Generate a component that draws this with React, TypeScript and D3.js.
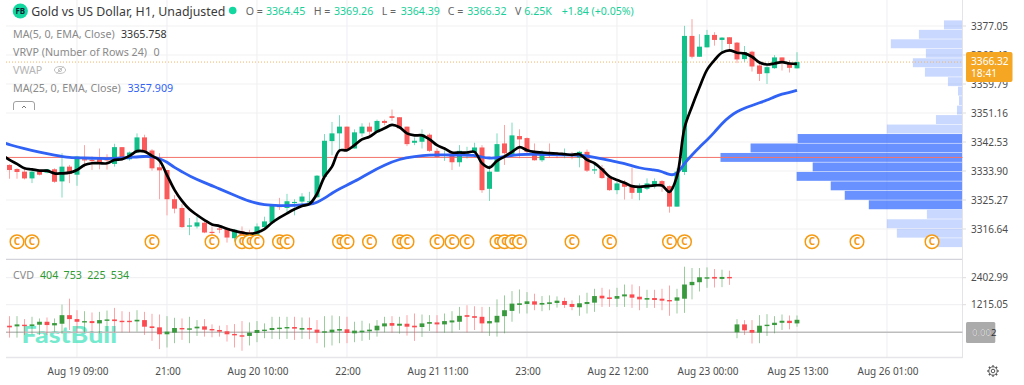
import React from "react";
import * as d3 from "d3";

const FONT = "'Noto Sans', sans-serif";
const FIRST_BAR = -9; // bar number of the first candle; 0 is "Aug 19 09:00"

const opens = [3335.7,3334.5,3333.7,3331.7,3333.8,3333.4,3334.4,3330.8,3335.2,3332.8,
3337.4,3337.2,3338.0,3337.4,3336.0,3341.0,3337.4,3339.4,3343.9,3340.0,
3335.0,3334.2,3325.5,3322.9,3317.5,3317.4,3318.5,3315.8,3316.8,3316.8,
3313.9,3316.0,3315.6,3314.9,3317.2,3318.5,3323.5,3322.9,3324.5,3324.8,
3324.7,3326.1,3332.2,3342.8,3345.1,3347.1,3340.6,3345.1,3347.1,3345.4,
3348.8,3350.2,3349.9,3347.1,3342.3,3342.6,3344.7,3339.9,3338.4,3339.1,
3336.5,3339.4,3339.3,3340.9,3328.6,3333.7,3342.1,3338.6,3344.3,3343.7,
3339.6,3337.1,3339.2,3338.9,3338.8,3338.8,3337.9,3339.6,3334.2,3334.7,
3332.0,3328.2,3330.2,3329.4,3327.4,3328.6,3329.4,3330.9,3329.4,3323.3,
3333.6,3374.1,3367.9,3370.7,3374.4,3372.9,3373.7,3372.1,3367.2,3369.4,
3365.3,3363.0,3364.5,3367.7,3366.0,3364.45];
const closes = [3334.2,3333.6,3331.7,3333.7,3332.8,3334.4,3330.7,3335.2,3333.0,3338.2,
3337.2,3337.0,3336.1,3337.2,3341.0,3337.7,3339.4,3343.9,3339.7,3334.7,
3334.1,3325.5,3322.7,3317.2,3317.7,3318.6,3315.6,3315.7,3316.6,3314.1,
3316.4,3314.2,3315.2,3317.4,3318.9,3323.5,3323.3,3324.9,3324.7,3326.3,
3324.9,3332.5,3342.9,3345.1,3347.1,3340.3,3345.4,3347.1,3345.6,3348.8,
3348.2,3349.7,3346.6,3341.9,3342.9,3344.9,3339.9,3338.1,3338.9,3336.5,
3339.9,3339.6,3340.9,3328.2,3333.7,3341.9,3339.2,3344.5,3343.3,3339.6,
3337.1,3339.4,3338.8,3338.8,3339.0,3338.4,3339.6,3334.0,3334.4,3331.8,
3328.2,3330.2,3329.2,3327.4,3329.0,3330.2,3330.9,3329.4,3323.3,3333.7,
3374.1,3367.9,3370.9,3374.4,3372.9,3373.6,3371.7,3367.1,3369.3,3365.0,
3362.8,3364.8,3367.7,3366.0,3364.6,3366.32];
const highs = [3335.9,3334.7,3334.7,3334.2,3334.2,3334.5,3334.7,3339.2,3335.7,3338.4,
3341.6,3338.2,3340.6,3338.9,3342.0,3341.0,3339.7,3345.1,3344.7,3340.4,
3339.2,3334.2,3326.7,3324.1,3319.9,3320.3,3318.8,3317.4,3317.4,3316.9,
3316.6,3317.4,3316.4,3318.3,3320.3,3323.8,3325.9,3327.1,3325.5,3327.3,
3327.7,3332.7,3344.9,3348.5,3350.5,3347.1,3346.3,3348.1,3348.3,3349.2,
3349.2,3352.2,3349.9,3347.1,3343.9,3346.3,3345.1,3340.6,3340.1,3339.6,
3341.6,3341.1,3342.3,3341.6,3335.7,3345.1,3347.6,3348.3,3346.3,3343.9,
3342.1,3340.1,3342.1,3339.6,3340.6,3339.6,3339.9,3340.3,3336.2,3335.7,
3332.4,3330.7,3331.2,3334.9,3330.2,3331.7,3331.7,3331.2,3329.6,3334.7,
3377.1,3379.1,3374.6,3375.9,3375.2,3373.7,3373.7,3372.3,3371.1,3369.7,
3366.4,3365.5,3368.4,3367.7,3366.9,3369.26];
const lows = [3331.6,3331.6,3331.4,3330.3,3332.6,3333.2,3330.4,3326.0,3330.3,3329.5,
3335.0,3334.2,3334.4,3334.3,3335.2,3337.0,3337.0,3339.2,3339.2,3334.0,
3325.5,3320.7,3321.3,3317.0,3314.8,3316.8,3315.4,3314.9,3315.4,3312.6,
3312.9,3312.9,3314.4,3314.4,3316.9,3318.3,3322.3,3321.7,3320.7,3323.8,
3323.7,3325.9,3332.0,3338.6,3340.1,3340.1,3340.6,3344.1,3344.1,3345.4,
3347.5,3348.8,3346.6,3341.3,3341.6,3340.6,3339.6,3337.9,3336.9,3334.2,
3335.2,3337.6,3339.1,3327.4,3325.0,3333.7,3335.7,3338.1,3337.7,3339.2,
3337.0,3336.6,3337.9,3337.7,3337.7,3337.4,3335.0,3333.6,3333.0,3331.6,
3328.0,3327.0,3325.4,3325.6,3325.2,3328.2,3328.7,3327.7,3321.5,3323.3,
3332.7,3367.4,3367.9,3370.7,3371.2,3369.1,3369.4,3366.0,3366.4,3363.5,
3360.7,3359.8,3364.3,3363.8,3363.2,3364.39];

// EMA 5, one value per bar starting one bar left of the first candle
const ma5 = [3338.7,3337.2,3336.0,3334.7,3334.4,3334.0,3334.0,3333.2,3333.2,3333.4,3334.2,
3335.7,3336.2,3336.2,3336.2,3337.2,3337.4,3338.4,3339.8,3339.7,3338.4,
3337.0,3332.7,3328.3,3325.0,3322.5,3320.8,3319.3,3318.0,3317.5,3316.7,
3316.1,3315.6,3315.2,3315.6,3316.6,3318.5,3320.0,3321.3,3322.5,3323.5,
3324.1,3327.1,3332.2,3335.2,3340.0,3340.1,3341.6,3343.3,3344.1,3345.6,
3346.6,3347.6,3346.9,3345.1,3344.5,3344.5,3343.3,3341.6,3340.6,3339.4,
3339.4,3339.4,3339.6,3336.2,3334.9,3336.9,3338.2,3339.6,3341.0,3340.1,
3339.6,3339.4,3339.2,3339.1,3338.9,3338.7,3338.9,3337.2,3336.2,3334.4,
3332.2,3331.2,3330.4,3329.4,3329.2,3329.4,3329.6,3329.6,3327.7,3332.4,
3346.7,3353.1,3358.8,3364.0,3366.9,3369.1,3369.8,3369.1,3368.9,3367.9,
3366.2,3365.6,3365.9,3366.3,3365.9,3365.76];

const ma25Bars = [-10,-9,-7,-5,-3,-1,1,3,5,7,9,10,11,12,13,14,15,17,19,21,23,25,27,29,31,32,33,34,35,37,39,41,43,45,47,49,51,53,54,55,56,57,59,61,65,67,69,71,73,75,77,78,79,80,81,82,83,84,85,86,87,88,89,90,91,92,93,94,95,96];
const ma25 = [3342.5,3341.7,3340.5,3339.5,3338.6,3337.8,3337.8,3337.6,3337.6,3337.9,3338.3,3338.2,3337.6,3336.6,3334.9,3333.7,3332.4,3330.4,3328.6,3326.7,3324.8,3323.7,3323.6,3323.6,3323.9,3324.5,3325.8,3327.3,3328.7,3330.7,3333.4,3335.7,3337.5,3338.2,3338.7,3338.7,3338.6,3338.7,3338.0,3337.7,3337.8,3338.2,3338.9,3338.9,3338.7,3338.7,3338.0,3337.0,3336.2,3334.7,3334.2,3333.8,3332.7,3332.7,3336.3,3338.7,3341.0,3343.1,3345.4,3348.1,3350.1,3351.6,3352.6,3353.4,3354.2,3355.0,3356.0,3356.8,3357.3,3357.91];

const cvdOpen = [290,261,334,276,334,464,305,377,754,580,435,493,392,508,566,508,508,479,537,261,218,-87,-15,189,116,174,261,145,102,44,-73,-131,-160,-29,58,102,145,174,232,116,189,116,-15,0,73,131,-44,0,44,87,261,406,290,377,290,232,377,435,348,435,464,754,710,682,392,435,710,943,1204,1247,1363,1218,1247,1291,1378,1247,1102,1247,1305,1610,1537,1479,1581,1668,1566,1436,1508,1479,1421,1392,1479,2074,2204,2364,2436,2349,2436,0,348,102,-15,276,319,420,508,392];
const cvdClose = [218,348,276,348,464,319,406,754,580,464,493,406,537,566,493,464,450,551,247,189,-87,29,189,131,174,247,116,87,29,-87,-131,-174,-15,102,116,189,203,232,160,189,116,-15,44,116,145,-29,73,73,116,290,392,290,377,247,218,392,450,348,493,522,725,682,638,392,493,725,972,1262,1276,1363,1218,1291,1320,1392,1204,1117,1276,1334,1595,1494,1465,1595,1668,1523,1450,1508,1421,1392,1363,1537,2103,2219,2422,2422,2364,2436,2378,348,87,-15,290,334,420,508,406,551];
const cvdHigh = [710,710,580,682,609,652,609,1218,1479,972,928,870,899,957,1073,928,899,972,899,812,783,710,638,609,682,537,580,348,290,319,363,493,435,493,392,682,682,682,682,652,652,537,710,740,710,682,464,508,392,537,682,710,682,754,827,783,754,754,827,928,1117,1189,1146,1117,1117,1450,1624,1813,1885,1769,1697,1595,1624,1581,1523,1407,1624,1740,1914,1958,1885,1958,2103,2103,2030,1871,1871,1914,2059,1914,2886,2828,2828,2857,2784,2755,2712,580,537,537,754,798,710,783,740,740];
const cvdLow = [-232,-232,-116,-87,-116,-116,29,-58,102,-15,0,0,-44,29,0,0,0,29,-116,-377,-740,-667,-479,-334,-479,-160,-189,-218,-189,-406,-667,-812,-580,-435,-261,-290,-305,-290,-334,-290,-305,-479,-667,-580,-479,-479,-435,-377,-334,-189,0,-15,-58,-145,-377,-203,58,-15,-15,-15,102,0,102,0,-160,-189,-44,464,827,827,972,928,972,1088,1073,972,725,827,899,1117,1117,1117,1117,1073,972,1073,1073,972,725,827,856,1450,1798,1958,1972,1987,2088,-261,-116,-493,-479,-160,-44,102,131,247];

const volumeRows = [18,43,71,36,49,37,14,4,3,5,26,75,164,211,241,149,165,131,117,93,35,75,65,29];
const valueAreaRows = [12,13,14,15,16,17,18,19];

const calendarBars = [-8,-6,10,18,22,23,24,27,28,35,36,39,43,44,48,50,52,56,57,58,59,66,71,79,81,98,104,114];

const priceTicks = [3377.05,3368.42,3359.79,3351.16,3342.53,3333.9,3325.27,3316.64];
const cvdTicks = [2402.99,1215.05];
const timeBars = [0,12,24,36,48,60,72,84,96,108];
const timeLabels = ["Aug 19 09:00","21:00","Aug 20 10:00","22:00","Aug 21 11:00","23:00","Aug 22 12:00","Aug 23 00:00","Aug 25 13:00","Aug 26 01:00"];
const legendRows = [
  { label: "MA(5, 0, EMA, Close)", value: "3365.758", valueX: 121, color: "#333", y: 37.5 },
  { label: "VRVP (Number of Rows 24)", value: "0", valueX: 153.5, color: "#888", y: 55.5 },
  { label: "MA(25, 0, EMA, Close)", value: "3357.909", valueX: 127.5, color: "#2f62f5", y: 92 },
];
const cvdValues = ["404", "753", "225", "534"];
const ohlcText = [
  ["O =", "3364.45", 245.7, 266],
  ["H =", "3369.26", 313.7, 334],
  ["L =", "3364.39", 381.7, 400.7],
  ["C =", "3366.32", 447.7, 467.3],
  ["V", "6.25K", 515, 524.3],
] as const;

const UP = "#10c088", DOWN = "#fb5a5a", CVD_UP = "#389a3c", CVD_DOWN = "#fb4a50";
const LEFT = 6, RIGHT = 962.5, GRID = "#f1f1f3", AXIS_TEXT = "#4d4d4d";

export default function App() {
  const x = d3.scaleLinear().domain([0, 120]).range([77, 977]);
  const y = d3.scaleLinear().domain([3316.64, 3377.05]).range([229, 26]);
  const yc = d3.scaleLinear().domain([0, 2402.99]).range([332.3, 277.7]);
  const rows = d3.scaleBand<number>().domain(d3.range(volumeRows.length)).range([20.1, 247.4]).paddingInner(0.06).paddingOuter(0.03);
  const w = d3.scaleLinear().domain([0, 241]).range([0, 241.5]);

  const bars = d3.range(opens.length);
  const bx = (k: number) => x(k + FIRST_BAR);

  const line5 = d3.line<number>().x((_, k) => x(k + FIRST_BAR - 1)).y((d) => y(d)).curve(d3.curveCatmullRom.alpha(0.5));
  const line25 = d3.line<number>().x((_, k) => x(ma25Bars[k])).y((d) => y(d)).curve(d3.curveBasis);

  const pocY = (rows(14) as number) + rows.bandwidth() / 2;
  const lastY = y(closes[closes.length - 1]);
  const gear = d3.range(8).map((k) => (k * Math.PI) / 4);

  return (
    <svg width={1024} height={385} viewBox="0 0 1024 385" style={{ position: "absolute", left: 0, top: 0, background: "#fff", fontFamily: FONT }}>
      <defs>
        <clipPath id="pane"><rect x={LEFT} y={0} width={RIGHT - LEFT} height={259} /></clipPath>
      </defs>

      {/* grid */}
      {priceTicks.map((t) => <line key={t} x1={LEFT} x2={RIGHT} y1={y(t)} y2={y(t)} stroke={GRID} strokeWidth={1.2} />)}
      {cvdTicks.map((t) => <line key={t} x1={LEFT} x2={RIGHT} y1={yc(t)} y2={yc(t)} stroke={GRID} strokeWidth={1.2} />)}
      {timeBars.map((b) => <line key={b} x1={x(b)} x2={x(b)} y1={0} y2={357} stroke={GRID} strokeWidth={1.2} />)}
      <line x1={LEFT} x2={RIGHT} y1={259.3} y2={259.3} stroke="#c9c9d3" strokeWidth={1} />
      <line x1={LEFT} x2={RIGHT} y1={357.5} y2={357.5} stroke="#e6e6ea" strokeWidth={1.5} />
      <line x1={RIGHT} x2={RIGHT} y1={0} y2={358} stroke="#e4e4e8" strokeWidth={1} />

      {/* volume profile */}
      {volumeRows.map((v, k) => (
        <rect key={k} x={RIGHT - 0.5 - w(v)} y={rows(k)} width={w(v)} height={rows.bandwidth()}
          fill={valueAreaRows.includes(k) ? "rgba(41,98,255,0.7)" : "rgba(41,98,255,0.25)"} />
      ))}

      {/* watermark */}
      <text x={21.5} y={342.5} fontFamily="Lato, sans-serif" fontWeight={900} fontSize={23} textLength={95.5} lengthAdjust="spacingAndGlyphs" fill="#14dcae" opacity={0.58}>FastBull</text>
      <line x1={LEFT} x2={RIGHT} y1={yc(0)} y2={yc(0)} stroke="#bdbdbd" strokeWidth={1.5} />

      {/* levels */}
      <line x1={LEFT} x2={RIGHT} y1={pocY} y2={pocY} stroke="#f4736b" strokeWidth={1} />
      <line x1={LEFT} x2={RIGHT} y1={lastY} y2={lastY} stroke="#f5b35f" strokeWidth={1} strokeDasharray="1 2" />

      {/* price candles */}
      {bars.map((k) => {
        const up = closes[k] >= opens[k];
        const c = up ? UP : DOWN;
        const top = y(Math.max(opens[k], closes[k]));
        const bot = y(Math.min(opens[k], closes[k]));
        return (
          <g key={k}>
            <line x1={bx(k)} x2={bx(k)} y1={y(highs[k])} y2={y(lows[k])} stroke={c} strokeOpacity={0.55} strokeWidth={1} />
            <rect x={bx(k) - 2.5} y={top} width={5} height={Math.max(bot - top, 1.2)} fill={c} />
          </g>
        );
      })}

      {/* moving averages */}
      <g clipPath="url(#pane)" fill="none" strokeLinejoin="round">
        <path d={line25(ma25) as string} stroke="#2f62f5" strokeWidth={2.8} />
        <path d={line5(ma5) as string} stroke="#000" strokeWidth={2.7} />
      </g>

      {/* calendar events */}
      {calendarBars.map((b) => (
        <g key={b} transform={`translate(${x(b)},241.7)`}>
          <circle r={6.8} fill="#fff" stroke="#f59a12" strokeWidth={1.5} />
          <text textAnchor="middle" dy={3.5} fontSize={10} fontWeight={700} fill="#f59a12">C</text>
        </g>
      ))}

      {/* cvd candles */}
      {bars.map((k) => {
        const up = cvdClose[k] >= cvdOpen[k];
        const c = up ? CVD_UP : CVD_DOWN;
        const top = yc(Math.max(cvdOpen[k], cvdClose[k]));
        const bot = yc(Math.min(cvdOpen[k], cvdClose[k]));
        return (
          <g key={k}>
            <line x1={bx(k)} x2={bx(k)} y1={yc(cvdHigh[k])} y2={yc(cvdLow[k])} stroke={c} strokeOpacity={0.5} strokeWidth={1} />
            <rect x={bx(k) - 2.4} y={top} width={4.8} height={Math.max(bot - top, 1.4)} fill={c} />
          </g>
        );
      })}

      {/* header */}
      <circle cx={20.3} cy={11} r={7.6} fill="#12d8a0" />
      <text x={20.3} y={13.9} textAnchor="middle" fontSize={8} fontWeight={700} fill="#123">FB</text>
      <text x={31.3} y={15.5} fontSize={13} fill="#3a3a3a" textLength={194} lengthAdjust="spacingAndGlyphs">Gold vs US Dollar, H1, Unadjusted</text>
      <circle cx={232.7} cy={10.5} r={3.8} fill="#12d8a0" />
      {ohlcText.map(([k, v, kx, vx]) => (
        <g key={k} fontSize={10.6}>
          <text x={kx} y={15} fill="#666">{k}</text>
          <text x={vx} y={15} fill="#17cf98">{v}</text>
        </g>
      ))}
      <text x={561.7} y={15} fontSize={10.6} fill="#17cf98">+1.84 (+0.05%)</text>

      {/* legend */}
      {legendRows.map((r) => (
        <g key={r.label} fontSize={10.7}>
          <text x={13} y={r.y} fill="#8a8a8a">{r.label}</text>
          <text x={r.valueX} y={r.y} fill={r.color}>{r.value}</text>
        </g>
      ))}
      <text x={13} y={74} fontSize={10.7} fill="#b5b5b5">VWAP</text>
      <g transform="translate(60,70)" fill="none" stroke="#bbb" strokeWidth={0.9}>
        <ellipse rx={5.6} ry={3.5} />
        <circle r={1.6} />
        <line x1={-3.5} y1={3.5} x2={3.5} y2={-3.5} />
      </g>
      <path d="M13.5 110V104Q13.5 101.5 16 101.5H32Q34.5 101.5 34.5 104V110" fill="#fff" stroke="#888" strokeWidth={0.8} />
      <path d="M22 108L24 106L26 108" fill="none" stroke="#666" strokeWidth={0.9} />
      <text x={13} y={278.5} fontSize={10.7} fill="#8a8a8a">CVD</text>
      {cvdValues.map((v, k) => (
        <text key={v} x={40 + k * 23.6} y={278.5} fontSize={10.7} fill="#2f9a33">{v}</text>
      ))}

      {/* axes */}
      {priceTicks.map((t) => (
        <g key={t}>
          <line x1={RIGHT} x2={966} y1={y(t)} y2={y(t)} stroke="#ddd" />
          <text x={971} y={y(t) + 3.7} fontSize={10} fill={AXIS_TEXT}>{t.toFixed(2)}</text>
        </g>
      ))}
      {cvdTicks.map((t) => (
        <g key={t}>
          <line x1={RIGHT} x2={966} y1={yc(t)} y2={yc(t)} stroke="#ddd" />
          <text x={971} y={yc(t) + 3.7} fontSize={10} fill={AXIS_TEXT}>{t.toFixed(2)}</text>
        </g>
      ))}
      {timeBars.map((b, k) => (
        <text key={b} x={x(b) + 1} y={374.5} fontSize={10} textAnchor="middle" fill={AXIS_TEXT}>{timeLabels[k]}</text>
      ))}

      {/* last price tag */}
      <rect x={966} y={52} width={46.5} height={30} rx={2} fill="#f5a623" />
      <text x={971} y={65} fontSize={10.2} fill="#fff">{closes[closes.length - 1].toFixed(2)}</text>
      <text x={971} y={77} fontSize={10.2} fill="#fff">18:41</text>

      {/* zero badge */}
      <rect x={966} y={322} width={29.3} height={21} rx={1.5} fill="#ababab" />
      <text x={972} y={336.3} fontSize={9.6} fill="#333">0.002</text>
      <text x={972} y={336.3} fontSize={9.6} fill="#eee">0.00</text>

      {/* settings */}
      <g transform="translate(993,371)" fill="none" stroke="#555" strokeWidth={1}>
        <circle r={4.2} />
        <circle r={1.8} />
        {gear.map((a) => (
          <line key={a} x1={4.2 * Math.cos(a)} y1={4.2 * Math.sin(a)} x2={5.8 * Math.cos(a)} y2={5.8 * Math.sin(a)} strokeWidth={1.6} />
        ))}
      </g>
    </svg>
  );
}
